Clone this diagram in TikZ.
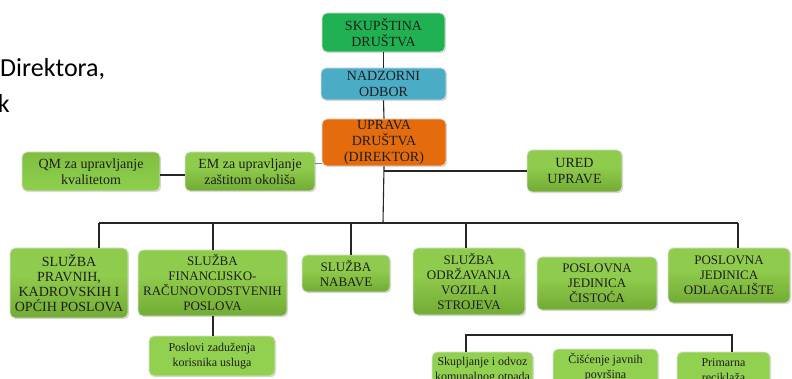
\documentclass[tikz,border=0pt]{standalone}
\usepackage{fontspec}
\setmainfont{Liberation Serif}
\newfontfamily\carlito{Carlito}
\usetikzlibrary{shadows}
\definecolor{skupc}{RGB}{32,178,82}
\definecolor{nadzc}{RGB}{75,172,198}
\definecolor{uprc}{RGB}{228,108,12}
\definecolor{gTop}{RGB}{143,203,76}
\definecolor{gMid}{RGB}{112,168,50}
\definecolor{gBot}{RGB}{58,86,24}
\definecolor{qTop}{RGB}{128,190,64}
\definecolor{qBot}{RGB}{142,208,78}
\definecolor{flatg}{RGB}{146,208,80}
\definecolor{txt}{RGB}{30,30,30}
\pgfdeclareverticalshading{gshade}{100bp}{color(0bp)=(gBot); color(22bp)=(gMid); color(55bp)=(gTop); color(100bp)=(gTop)}
\tikzset{
  box/.style={rounded corners=5pt, draw=white!75!gray, line width=0.8pt, align=center,
    inner sep=0pt, text=txt,
    drop shadow={opacity=0.3, shadow xshift=1.2pt, shadow yshift=-1.2pt}},
  topbox/.style={box, font=\fontsize{14}{16}\selectfont},
  gradbox/.style={box, shade, shading=gshade, font=\fontsize{13}{15}\selectfont},
  qmbox/.style={box, top color=qTop, bottom color=qBot, font=\fontsize{14}{16}\selectfont},
  subbox/.style={box, fill=flatg, font=\fontsize{12}{15}\selectfont},
  conn/.style={line width=1.1pt, draw=black!85}
}
\begin{document}
\begin{tikzpicture}[x=1pt,y=-1pt]
\useasboundingbox[fill=white] (0,0) rectangle (792,379);
% left text
\node[anchor=base west, inner sep=0pt, font=\carlito\fontsize{26}{30}\selectfont] (t1) at (0,77) {Direktora,};
\node[anchor=base east, inner sep=0pt, font=\carlito\fontsize{26}{30}\selectfont] (t2) at (10,113) {k};
% top chain
\node[topbox, fill=skupc, minimum width=123pt, minimum height=39pt] (skup) at (383.5,32.5) {SKUPŠTINA\\DRUŠTVA};
\node[topbox, fill=nadzc, minimum width=125pt, minimum height=32pt] (nadz) at (383.5,84) {NADZORNI\\ODBOR};
\node[topbox, fill=uprc, minimum width=124pt, minimum height=47pt] (upr) at (384,142.5) {UPRAVA\\DRUŠTVA\\(DIREKTOR)};
% staff row
\node[qmbox, minimum width=138pt, minimum height=39pt] (qm) at (91,171.5) {QM za upravljanje\\kvalitetom};
\node[gradbox, font=\fontsize{14}{16}\selectfont, minimum width=130pt, minimum height=39pt] (em) at (250,171.5) {EM za upravljanje\\zaštitom okoliša};
\node[gradbox, font=\fontsize{14}{16}\selectfont, minimum width=95pt, minimum height=42pt] (ured) at (574.5,171) {URED\\UPRAVE};
% second row
\node[gradbox, font=\fontsize{14}{15}\selectfont, minimum width=118pt, minimum height=70pt] (b1) at (69,283) {SLUŽBA\\PRAVNIH,\\KADROVSKIH I\\OPĆIH POSLOVA};
\node[gradbox, minimum width=149pt, minimum height=66pt] (b2) at (212.5,283) {SLUŽBA\\FINANCIJSKO-\\RAČUNOVODSTVENIH\\POSLOVA};
\node[gradbox, minimum width=88pt, minimum height=37pt] (b3) at (346,273.5) {SLUŽBA\\NABAVE};
\node[gradbox, minimum width=112pt, minimum height=67pt] (b4) at (469,281.5) {SLUŽBA\\ODRŽAVANJA\\VOZILA I\\STROJEVA};
\node[gradbox, minimum width=120pt, minimum height=53pt] (b5) at (597,283.5) {POSLOVNA\\JEDINICA\\ČISTOĆA};
\node[gradbox, minimum width=122pt, minimum height=55pt] (b6) at (729,275.5) {POSLOVNA\\JEDINICA\\ODLAGALIŠTE};
% third row
\node[subbox, minimum width=126pt, minimum height=40pt] (pos) at (212,356) {Poslovi zaduženja\\korisnika usluga};
\node[subbox, minimum width=101pt, minimum height=36pt] (s1) at (482.5,370) {Skupljanje i odvoz\\komunalnog otpada};
\node[subbox, minimum width=105pt, minimum height=36pt] (s2) at (605.5,367) {Čišćenje javnih\\površina};
\node[subbox, minimum width=93pt, minimum height=36pt] (s3) at (723.5,370) {Primarna\\reciklaža};
% coordinates
\coordinate (bus) at (383,223);
\coordinate (d1) at (99,223);
\coordinate (d2) at (213,223);
\coordinate (d3) at (351,223);
\coordinate (d4) at (466,223);
\coordinate (d6) at (738,223);
\coordinate (k1) at (466,335);
\coordinate (k2) at (732,335);
\coordinate (h163) at (0,163);
% connectors
\draw[conn] (skup.south) -- (nadz.north);
\draw[conn] (nadz.south) -- (upr.north);
\draw[conn] (upr.south) -- (bus);
\draw[conn] (upr.south |- ured.west) -- (ured.west);
\draw[conn] ([yshift=-3.5pt]qm.east) -- ([yshift=-3.5pt]em.west);
\draw[line width=0.6pt, draw=gray] (em.east |- h163) -- (upr.west |- h163);
\draw[conn] (d1) -- (d6);
\draw[conn] (d1) -- (d1 |- b1.north);
\draw[conn] (d2) -- (d2 |- b2.north);
\draw[conn] (d3) -- (d3 |- b3.north);
\draw[conn] (d4) -- (d4 |- b4.north);
\draw[conn] (d6) -- (d6 |- b6.north);
\draw[conn] (b2.south -| d2) -- (pos.north -| d2);
\draw[conn] (k1 |- s1.north) -- (k1) -- (k2) -- (k2 |- s3.north);
\end{tikzpicture}
\end{document}
